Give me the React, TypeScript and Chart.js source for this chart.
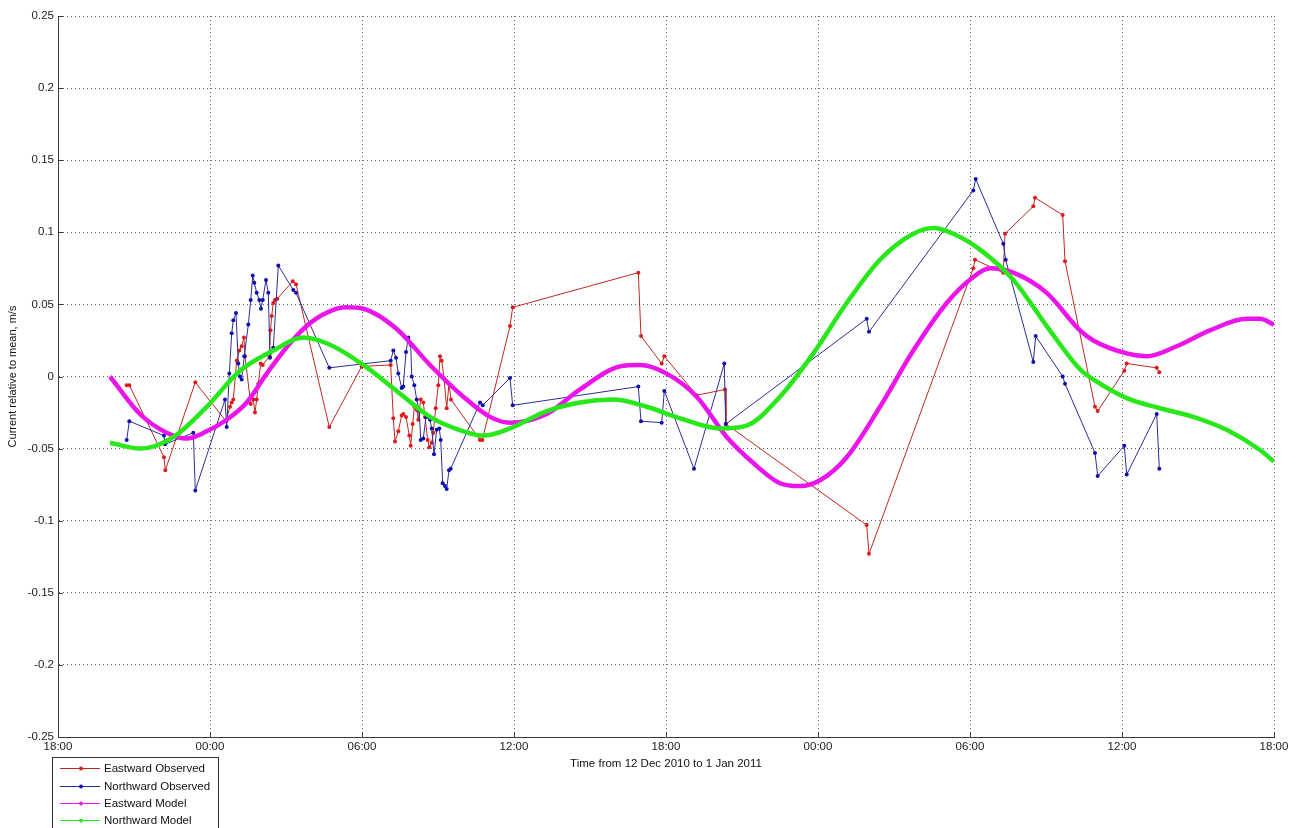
import React, { useEffect, useRef } from 'react';
import { Chart, registerables } from 'chart.js';

Chart.register(...registerables);

// ---------- data (hours after 18:00 on the first day) ----------
const xTickHours = [0, 6, 12, 18, 24, 30, 36, 42, 48];
const xTickLabels = ['18:00', '00:00', '06:00', '12:00', '18:00', '00:00', '06:00', '12:00', '18:00'];
const yTickValues = [-0.25, -0.2, -0.15, -0.1, -0.05, 0, 0.05, 0.1, 0.15, 0.2, 0.25];
const yTickLabels = ['-0.25', '-0.2', '-0.15', '-0.1', '-0.05', '0', '0.05', '0.1', '0.15', '0.2', '0.25'];

const seriesNames = ['Eastward Observed', 'Northward Observed', 'Eastward Model', 'Northward Model'];
const xAxisTitle = 'Time from 12 Dec 2010 to 1 Jan 2011';
const yAxisTitle = 'Current relative to mean, m/s';

const eastObsHours = [2.712, 2.815, 4.184, 4.236, 5.420, 6.632, 6.790, 6.857, 6.920, 7.054, 7.157, 7.251, 7.342, 7.382, 7.607, 7.709, 7.776, 7.843, 7.907, 8.001, 8.080, 8.349, 8.388, 8.435, 8.499, 8.566, 8.657, 9.265, 9.395, 10.709, 11.988, 13.133, 13.236, 13.303, 13.433, 13.567, 13.630, 13.737, 13.867, 13.923, 14.001, 14.065, 14.159, 14.222, 14.317, 14.420, 14.487, 14.593, 14.657, 14.751, 14.814, 14.909, 15.012, 15.079, 15.146, 15.237, 15.343, 15.434, 15.513, 16.658, 16.749, 17.842, 17.949, 22.907, 23.013, 23.830, 23.933, 25.212, 26.329, 26.368, 31.922, 32.013, 36.130, 36.197, 37.314, 37.382, 38.499, 38.566, 39.659, 39.750, 40.934, 41.041, 42.091, 42.186, 43.370, 43.473];
const eastObsValues = [-0.006, -0.006, -0.056, -0.065, -0.004, -0.031, -0.021, -0.018, -0.016, 0.011, 0.018, 0.021, 0.027, 0.014, -0.019, -0.016, -0.025, -0.016, -0.005, 0.009, 0.008, 0.014, 0.032, 0.042, 0.051, 0.053, 0.054, 0.066, 0.064, -0.035, 0.007, 0.008, -0.029, -0.045, -0.038, -0.027, -0.026, -0.028, -0.041, -0.048, -0.033, -0.021, -0.023, -0.030, -0.016, -0.018, -0.028, -0.044, -0.049, -0.046, -0.039, -0.022, -0.006, 0.014, 0.011, -0.001, -0.022, -0.005, -0.016, -0.044, -0.044, 0.035, 0.048, 0.072, 0.028, 0.009, 0.014, -0.013, -0.009, -0.033, -0.103, -0.123, 0.075, 0.081, 0.072, 0.099, 0.118, 0.124, 0.112, 0.080, -0.021, -0.024, 0.004, 0.009, 0.006, 0.003];

const northObsHours = [2.712, 2.815, 4.184, 4.224, 5.341, 5.420, 6.592, 6.659, 6.762, 6.857, 6.920, 7.026, 7.117, 7.184, 7.251, 7.354, 7.512, 7.607, 7.686, 7.749, 7.843, 7.946, 8.013, 8.080, 8.211, 8.301, 8.368, 8.499, 8.697, 9.288, 9.395, 10.709, 13.133, 13.236, 13.342, 13.433, 13.567, 13.630, 13.737, 13.828, 13.923, 13.962, 14.065, 14.159, 14.262, 14.317, 14.420, 14.526, 14.617, 14.684, 14.751, 14.842, 14.949, 15.051, 15.107, 15.186, 15.276, 15.343, 15.434, 15.501, 16.658, 16.765, 17.842, 17.949, 22.907, 23.013, 23.830, 23.933, 25.105, 26.301, 26.357, 31.922, 32.013, 36.130, 36.225, 37.314, 37.409, 38.499, 38.593, 39.659, 39.750, 40.934, 41.041, 42.091, 42.186, 43.370, 43.473];
const northObsValues = [-0.044, -0.031, -0.041, -0.047, -0.039, -0.079, -0.016, -0.035, 0.002, 0.030, 0.039, 0.044, 0.009, 0.000, -0.002, 0.014, 0.036, 0.053, 0.070, 0.065, 0.058, 0.053, 0.047, 0.053, 0.067, 0.058, 0.013, 0.020, 0.077, 0.060, 0.058, 0.006, 0.011, 0.018, 0.013, 0.002, -0.008, -0.007, 0.017, 0.027, 0.022, 0.000, -0.006, -0.016, -0.024, -0.044, -0.043, -0.028, -0.028, -0.030, -0.036, -0.054, -0.037, -0.036, -0.044, -0.074, -0.076, -0.078, -0.065, -0.064, -0.018, -0.020, -0.001, -0.020, -0.007, -0.031, -0.032, -0.010, -0.064, 0.009, -0.033, 0.040, 0.031, 0.129, 0.137, 0.092, 0.081, 0.010, 0.028, 0.000, -0.005, -0.053, -0.069, -0.048, -0.068, -0.026, -0.064];

const eastModelHours = [2.053, 3.237, 4.291, 5.080, 5.870, 6.659, 7.449, 8.238, 9.158, 9.947, 11.001, 11.396, 12.051, 13.370, 14.684, 15.999, 17.053, 17.842, 19.291, 20.605, 22.184, 22.974, 24.028, 25.212, 26.396, 27.446, 28.500, 29.290, 30.079, 31.133, 32.447, 33.762, 35.081, 36.131, 36.790, 37.710, 39.028, 40.342, 40.868, 42.186, 42.975, 44.159, 45.474, 46.922, 47.447, 48.0];
const eastModelValues = [0.000, -0.026, -0.039, -0.043, -0.038, -0.030, -0.018, 0.002, 0.023, 0.037, 0.047, 0.048, 0.047, 0.033, 0.008, -0.014, -0.028, -0.032, -0.026, -0.009, 0.007, 0.008, 0.002, -0.014, -0.042, -0.060, -0.074, -0.076, -0.072, -0.056, -0.021, 0.018, 0.051, 0.069, 0.075, 0.072, 0.058, 0.032, 0.025, 0.016, 0.014, 0.021, 0.032, 0.040, 0.040, 0.036];

const northModelHours = [2.053, 3.237, 4.551, 5.870, 7.184, 8.499, 9.683, 10.737, 12.051, 13.370, 14.684, 15.999, 16.788, 17.842, 19.291, 20.605, 21.920, 23.238, 24.553, 26.132, 27.186, 28.500, 29.815, 31.133, 32.447, 33.762, 34.552, 35.342, 36.395, 37.710, 39.028, 40.342, 40.868, 42.186, 43.500, 44.816, 46.132, 47.447, 48.0];
const northModelValues = [-0.046, -0.050, -0.042, -0.021, 0.004, 0.018, 0.027, 0.022, 0.008, -0.010, -0.028, -0.038, -0.041, -0.036, -0.024, -0.018, -0.016, -0.021, -0.029, -0.036, -0.034, -0.014, 0.016, 0.051, 0.081, 0.099, 0.103, 0.099, 0.088, 0.067, 0.035, 0.005, -0.002, -0.015, -0.022, -0.028, -0.037, -0.051, -0.059];

// ---------- styling ----------
const FONT = "'Liberation Sans', Arial, Helvetica, sans-serif";
const RED_LINE = 'rgb(190,40,35)';
const RED_PT = 'rgb(225,25,25)';
const BLUE_LINE = 'rgb(45,45,150)';
const BLUE_PT = 'rgb(15,15,175)';
const MAGENTA = 'rgb(235,20,235)';
const GREEN = 'rgb(40,232,25)';
const legendLineColors = [RED_LINE, BLUE_LINE, MAGENTA, GREEN];
const legendPointColors = [RED_PT, BLUE_PT, MAGENTA, GREEN];

const zip = (xs: number[], ys: number[]) => xs.map((x, i) => ({ x, y: ys[i] }));

const inwardTicks = {
  id: 'inwardTicks',
  afterDatasetsDraw(chart: any) {
    const { ctx, chartArea, scales } = chart;
    ctx.save();
    ctx.strokeStyle = '#3a3a3a';
    ctx.lineWidth = 1;
    ctx.beginPath();
    xTickHours.forEach((h) => {
      const px = Math.round(scales.x.getPixelForValue(h)) + 0.5;
      ctx.moveTo(px, chartArea.bottom);
      ctx.lineTo(px, chartArea.bottom - 5);
    });
    yTickValues.forEach((v) => {
      const py = Math.round(scales.y.getPixelForValue(v)) + 0.5;
      ctx.moveTo(chartArea.left, py);
      ctx.lineTo(chartArea.left + 5, py);
    });
    ctx.stroke();
    ctx.restore();
  },
};

const matlabLegend = {
  id: 'matlabLegend',
  afterDraw(chart: any) {
    const ctx = chart.ctx;
    ctx.save();
    const bx = 52.5, by = 757.5, bw = 166, bh = 90;
    ctx.fillStyle = '#ffffff';
    ctx.fillRect(bx, by, bw, bh);
    ctx.strokeStyle = '#333333';
    ctx.lineWidth = 1;
    ctx.strokeRect(bx, by, bw, bh);
    const rows = [768.5, 786.5, 803.5, 820.5];
    ctx.font = `11.5px ${FONT}`;
    ctx.textBaseline = 'middle';
    ctx.textAlign = 'left';
    seriesNames.forEach((name, i) => {
      const y = rows[i];
      ctx.strokeStyle = legendLineColors[i];
      ctx.lineWidth = 1;
      ctx.beginPath();
      ctx.moveTo(60, y);
      ctx.lineTo(100, y);
      ctx.stroke();
      ctx.fillStyle = legendPointColors[i];
      ctx.beginPath();
      ctx.arc(81, y, 2, 0, Math.PI * 2);
      ctx.fill();
      ctx.fillStyle = '#111111';
      ctx.fillText(name, 104, y + 0.5);
    });
    ctx.restore();
  },
};

export default function App() {
  const canvasRef = useRef<HTMLCanvasElement | null>(null);

  useEffect(() => {
    if (!canvasRef.current) return;
    const chart = new Chart(canvasRef.current, {
      type: 'scatter',
      data: {
        datasets: [
          {
            label: seriesNames[0],
            data: zip(eastObsHours, eastObsValues),
            showLine: true,
            borderColor: RED_LINE,
            borderWidth: 1,
            pointRadius: 2,
            pointBorderWidth: 0,
            pointBackgroundColor: RED_PT,
            tension: 0,
            order: 4,
          },
          {
            label: seriesNames[1],
            data: zip(northObsHours, northObsValues),
            showLine: true,
            borderColor: BLUE_LINE,
            borderWidth: 1,
            pointRadius: 2,
            pointBorderWidth: 0,
            pointBackgroundColor: BLUE_PT,
            tension: 0,
            order: 3,
          },
          {
            label: seriesNames[2],
            data: zip(eastModelHours, eastModelValues),
            showLine: true,
            borderColor: MAGENTA,
            borderWidth: 4.5,
            pointRadius: 0,
            cubicInterpolationMode: 'monotone',
            order: 2,
          },
          {
            label: seriesNames[3],
            data: zip(northModelHours, northModelValues),
            showLine: true,
            borderColor: GREEN,
            borderWidth: 4.5,
            pointRadius: 0,
            cubicInterpolationMode: 'monotone',
            order: 1,
          },
        ],
      },
      options: {
        responsive: false,
        animation: false,
        devicePixelRatio: 1,
        layout: { padding: { top: 16, right: 26, left: 0, bottom: 0 } },
        plugins: {
          legend: { display: false },
          tooltip: { enabled: false },
        },
        scales: {
          x: {
            type: 'linear',
            min: 0,
            max: 48,
            afterFit: (scale: any) => { scale.height = 91; },
            afterBuildTicks: (scale: any) => { scale.ticks = xTickHours.map((v) => ({ value: v })); },
            ticks: {
              autoSkip: false,
              maxRotation: 0,
              padding: 3,
              color: '#222222',
              font: { family: FONT, size: 11.5 },
              callback: (v: any) => {
                const i = xTickHours.indexOf(Math.round(Number(v)));
                return i >= 0 ? xTickLabels[i] : '';
              },
            },
            grid: { color: 'rgba(70,70,70,0.85)', lineWidth: 1, drawTicks: false },
            border: { display: true, color: '#3a3a3a', width: 1, dash: [1, 3] },
            title: {
              display: true,
              text: xAxisTitle,
              color: '#111111',
              font: { family: FONT, size: 11.5 },
              padding: { top: 0, bottom: 57 },
            },
          },
          y: {
            type: 'linear',
            min: -0.25,
            max: 0.25,
            afterFit: (scale: any) => { scale.width = 58; },
            afterBuildTicks: (scale: any) => { scale.ticks = yTickValues.map((v) => ({ value: v })); },
            ticks: {
              autoSkip: false,
              padding: 4,
              color: '#222222',
              font: { family: FONT, size: 11.5 },
              callback: (v: any) => {
                const i = yTickValues.findIndex((t) => Math.abs(t - Number(v)) < 1e-9);
                return i >= 0 ? yTickLabels[i] : '';
              },
            },
            grid: { color: 'rgba(70,70,70,0.85)', lineWidth: 1, drawTicks: false },
            border: { display: true, color: '#3a3a3a', width: 1, dash: [1, 3] },
            title: {
              display: true,
              text: yAxisTitle,
              color: '#111111',
              font: { family: FONT, size: 11 },
              padding: { top: 6, bottom: 0 },
            },
          },
        },
      },
      plugins: [inwardTicks, matlabLegend],
    } as any);
    return () => chart.destroy();
  }, []);

  return (
    <div style={{ position: 'fixed', left: 0, top: 0, width: 1300, height: 828, background: '#ffffff' }}>
      <canvas ref={canvasRef} width={1300} height={828} style={{ display: 'block', width: 1300, height: 828 }} />
    </div>
  );
}
